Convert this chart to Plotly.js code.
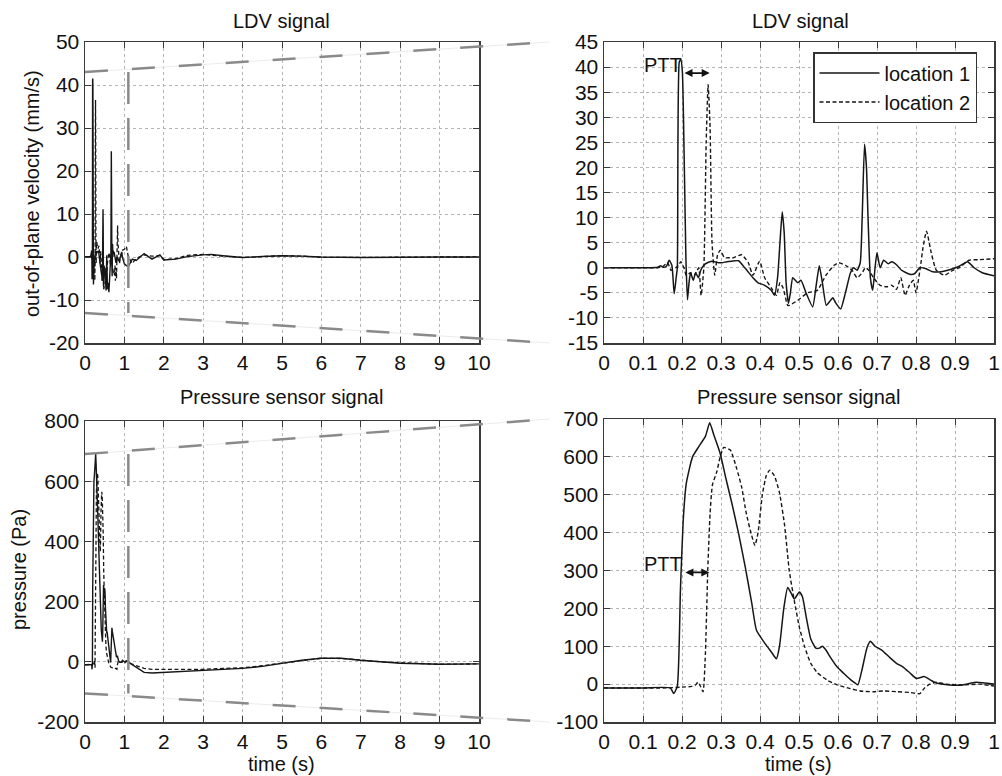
<!DOCTYPE html>
<html>
<head>
<meta charset="utf-8">
<script src="https://cdn.plot.ly/plotly-3.0.1.min.js"></script>
<style>html,body{margin:0;padding:0;background:#fff;}#chart{width:1002px;height:776px;}</style>
</head>
<body>
<div id="chart"></div>
<script>
// ---------- DATA ----------
const seriesNames = ['location 1', 'location 2'];
const subplotTitles = ['LDV signal', 'LDV signal', 'Pressure sensor signal', 'Pressure sensor signal'];
const xLabel = 'time (s)';
const yLabelLdv = 'out-of-plane velocity (mm/s)';
const yLabelP = 'pressure (Pa)';
const pttLabel = 'PTT';

// tick values / labels
const ticksFullT = [0,1,2,3,4,5,6,7,8,9,10];
const ticksZoomT = [0,0.1,0.2,0.3,0.4,0.5,0.6,0.7,0.8,0.9,1];
const ticksZoomTText = ['0','0.1','0.2','0.3','0.4','0.5','0.6','0.7','0.8','0.9','1'];
const ticksLdvFull = [-20,-10,0,10,20,30,40,50];
const ticksLdvFullText = ['-20','-10','0','10','20','30','40','50'];
const ticksLdvZoom = [-15,-10,-5,0,5,10,15,20,25,30,35,40,45];
const ticksLdvZoomText = ['-15','-10','-5','0','5','10','15','20','25','30','35','40','45'];
const ticksPFull = [-200,0,200,400,600,800];
const ticksPFullText = ['-200','0','200','400','600','800'];
const ticksPZoom = [-100,0,100,200,300,400,500,600,700];
const ticksPZoomText = ['-100','0','100','200','300','400','500','600','700'];

// LDV, first second (zoomed panel), location 1
const tLdv1 = [0,0.05,0.10,0.138,0.145,0.152,0.16,0.167,0.174,0.18,0.185,0.188,0.193,0.197,0.201,0.206,0.210,0.214,0.218,0.222,0.229,0.235,0.242,0.248,0.256,0.265,0.277,0.294,0.302,0.315,0.327,0.345,0.361,0.382,0.395,0.412,0.429,0.437,0.445,0.452,0.457,0.462,0.467,0.473,0.478,0.484,0.497,0.505,0.518,0.535,0.545,0.552,0.56,0.57,0.581,0.587,0.594,0.607,0.619,0.632,0.64,0.649,0.657,0.662,0.668,0.673,0.677,0.683,0.689,0.695,0.7,0.708,0.717,0.729,0.738,0.75,0.763,0.784,0.796,0.81,0.826,0.843,0.865,0.886,0.911,0.932,0.949,0.97,1.0];
const ldv1 = [0,0,0,0.1,0.4,0.1,0.3,1.5,0.5,-5.2,-2,0,41,41.5,39,20,2,-6.4,-3,-1,-2.5,-1,-2,-0.5,0.5,1,1.3,1,1,1.2,1.3,1.4,0,-2,-3,-3.5,-4.5,-5.5,-2,6,11.1,7,-3,-7.1,-5,-2,-3,-2.5,-5,-7.8,-3,0.4,-3,-7.5,-6.5,-6,-7,-8.2,-5,-1,0,-0.5,1,10,24.6,20,10,-2,-4.5,0,3,0,1.5,0.8,1.2,0.6,-0.5,-1.3,-1.2,0,-0.2,-0.8,-0.8,-0.4,0.3,1.2,0,-1,-1.6];
// LDV, first second, location 2
const tLdv2 = [0,0.10,0.138,0.15,0.163,0.172,0.184,0.191,0.197,0.205,0.211,0.222,0.231,0.239,0.243,0.249,0.256,0.262,0.267,0.272,0.277,0.284,0.291,0.298,0.309,0.323,0.332,0.353,0.37,0.382,0.399,0.412,0.429,0.442,0.451,0.459,0.471,0.475,0.497,0.522,0.547,0.569,0.59,0.602,0.619,0.636,0.649,0.662,0.67,0.679,0.691,0.708,0.725,0.738,0.75,0.761,0.772,0.783,0.793,0.8,0.811,0.818,0.827,0.839,0.852,0.873,0.894,0.911,0.936,0.962,1.0];
const ldv2 = [0,0,0,0.2,1,-0.5,0,0.5,1.2,0,-1.5,-1,-1.5,-0.5,0,-5.5,0,25,36.5,28,5,-1.5,2.5,3.5,2,2,2,2.6,1,-1.5,1.3,-2,-4,-5.5,-3,-4,-7.5,-7.5,-6.5,-5,-4.5,-1.5,0.5,1,0.5,-0.5,-2,-1,0,-0.5,-2,-3.5,-3.8,-3.5,-4.3,-2,-5.5,-3.5,-2.5,-5,0,4,7.3,3,-0.5,-1.5,-0.5,0,1.5,1.6,1.8];
// LDV, 1 s to 10 s (full-record panel only)
const tLdvTail = [1.05,1.1,1.2,1.3,1.5,1.7,1.9,2.0,2.3,2.6,3.0,3.2,3.5,4.0,4.5,5.0,5.5,6.0,7.0,8.0,9.0,10];
const ldv1Tail = [-2,-2.2,-0.5,-0.8,0.8,-0.5,0.5,-0.7,-0.5,0.1,0.5,0.6,0.3,-0.1,0.1,0.3,0.2,0,-0.1,0,0,0];
const ldv2Tail = [2.5,0,-1.5,-0.3,0.5,0.2,0.3,-0.6,-0.4,0.4,0.6,0.5,0.2,-0.1,0.1,0.3,0.2,-0.1,-0.1,0,0,0];

// Pressure, first second, location 1
const tP1 = [0,0.1,0.17,0.179,0.188,0.196,0.203,0.211,0.227,0.243,0.26,0.271,0.281,0.298,0.311,0.328,0.345,0.362,0.379,0.391,0.413,0.429,0.442,0.45,0.461,0.471,0.48,0.488,0.501,0.509,0.518,0.53,0.543,0.552,0.56,0.569,0.581,0.598,0.615,0.632,0.645,0.651,0.662,0.674,0.683,0.695,0.712,0.733,0.75,0.767,0.784,0.801,0.821,0.835,0.852,0.886,0.92,0.953,1.0];
const p1 = [-10,-10,-10,-25,-5,250,430,530,600,627,654,690,660,609,550,477,398,310,213,142,107,85,67,100,200,255,240,225,243,230,180,120,95,95,100,90,70,45,28,12,2,-2,40,95,113,100,90,70,55,45,30,15,20,12,3,-2,-2,5,0];
// Pressure, first second, location 2
const tP2 = [0,0.16,0.2,0.225,0.234,0.241,0.247,0.254,0.26,0.266,0.272,0.278,0.289,0.298,0.307,0.324,0.34,0.353,0.365,0.378,0.387,0.395,0.406,0.416,0.425,0.437,0.45,0.463,0.475,0.488,0.501,0.514,0.53,0.547,0.573,0.598,0.632,0.657,0.691,0.717,0.75,0.784,0.81,0.822,0.835,0.852,0.877,0.92,0.962,1.0];
const p2 = [-10,-10,-8,-6,-3,5,-5,-20,80,300,450,526,560,600,625,618,570,520,450,395,366,400,500,550,565,550,505,420,300,220,150,100,55,30,10,-2,-12,-18,-20,-18,-20,-22,-25,-10,0,5,0,-2,0,-5];
// Pressure, 1 s to 10 s
const tPTail = [1.05,1.2,1.5,1.7,2,2.5,3,3.5,4,4.5,5,5.5,6,6.5,7,7.5,8,9,10];
const p1Tail = [3,-10,-35,-37,-35,-33,-30,-26,-22,-15,-5,5,12,12,5,0,-5,-8,-7];
const p2Tail = [2,-8,-22,-25,-25,-25,-25,-22,-20,-13,-5,5,12,11,5,0,-3,-8,-7];

// zoom window shown on the full-record panels
const zoomT = [0, 1.1];
const zoomLdv = [-13, 43];
const zoomP = [-105, 690];
// PTT markers
const pttLdv = {t0: 0.2025, t1: 0.271, v: 38.8, labelT: 0.152, labelV: 40.4};
const pttP = {t0: 0.205, t1: 0.27, v: 295, labelT: 0.152, labelV: 318};

// ---------- LAYOUT ----------
const W = 1002, H = 776;
const FONT = 'Liberation Sans, Arial, Helvetica, sans-serif';
const px = v => v / W, py = v => 1 - v / H;
const dom = {
  xL: [px(85), px(479)], xR: [px(604), px(994)],
  yT: [py(343), py(42)], yB: [py(722), py(421)], yBR: [py(722), py(419)]
};
const ranges = {xL: [0, 10], xR: [0, 1], yTL: [-20, 50], yTR: [-15, 45], yBL: [-200, 800], yBR: [-100, 700]};

const lineCol = '#161616';
const solid = {color: lineCol, width: 1.5, shape: 'spline', smoothing: 0.5};
const dashed = {color: lineCol, width: 1.4, dash: '4px,2.5px', shape: 'spline', smoothing: 0.5};
const solidL = {color: lineCol, width: 1.4};
const dashedL = {color: lineCol, width: 1.3, dash: '4px,2.5px'};

const traces = [
  {x: tLdv1.concat(tLdvTail), y: ldv1.concat(ldv1Tail), xaxis: 'x', yaxis: 'y', mode: 'lines', line: solidL, name: seriesNames[0], showlegend: false},
  {x: tLdv2.concat(tLdvTail), y: ldv2.concat(ldv2Tail), xaxis: 'x', yaxis: 'y', mode: 'lines', line: dashedL, name: seriesNames[1], showlegend: false},
  {x: tLdv1, y: ldv1, xaxis: 'x2', yaxis: 'y2', mode: 'lines', line: solid, name: seriesNames[0], showlegend: true},
  {x: tLdv2, y: ldv2, xaxis: 'x2', yaxis: 'y2', mode: 'lines', line: dashed, name: seriesNames[1], showlegend: true},
  {x: tP1.concat(tPTail), y: p1.concat(p1Tail), xaxis: 'x3', yaxis: 'y3', mode: 'lines', line: solidL, name: seriesNames[0], showlegend: false},
  {x: tP2.concat(tPTail), y: p2.concat(p2Tail), xaxis: 'x3', yaxis: 'y3', mode: 'lines', line: dashedL, name: seriesNames[1], showlegend: false},
  {x: tP1, y: p1, xaxis: 'x4', yaxis: 'y4', mode: 'lines', line: solid, name: seriesNames[0], showlegend: false},
  {x: tP2, y: p2, xaxis: 'x4', yaxis: 'y4', mode: 'lines', line: dashed, name: seriesNames[1], showlegend: false}
];

const axBase = {
  showline: true, linecolor: '#3a3a3a', linewidth: 1.5, mirror: 'ticks',
  ticks: 'inside', ticklen: 6, tickcolor: '#3a3a3a', tickwidth: 1,
  showgrid: true, gridcolor: '#b5b5b5', griddash: 'dot', gridwidth: 1,
  zeroline: false, fixedrange: true, automargin: false,
  ticklabeloverflow: 'allow',
  tickfont: {family: FONT, size: 21, color: '#111'}
};
const ax = (o) => Object.assign({}, axBase, o);

// map data -> paper
const toPaper = (d, r, v) => d[0] + (v - r[0]) / (r[1] - r[0]) * (d[1] - d[0]);

function connectors(yDomL, yRangeL, yDomR, zoomY) {
  const x0 = toPaper(dom.xL, ranges.xL, zoomT[0]);
  const xEnd = px(550);
  const yTop = toPaper(yDomL, yRangeL, zoomY[1]);
  const yBot = toPaper(yDomL, yRangeL, zoomY[0]);
  const segs = [[x0, yTop, xEnd, yDomR[1]], [x0, yBot, xEnd, yDomR[0]]];
  const out = [];
  segs.forEach(s => {
    out.push({type: 'line', xref: 'paper', yref: 'paper', x0: s[0], y0: s[1], x1: s[2], y1: s[3], layer: 'above', line: {color: '#ececec', width: 1}});
    out.push({type: 'line', xref: 'paper', yref: 'paper', x0: s[0], y0: s[1], x1: s[2], y1: s[3], layer: 'above', line: {color: '#8a8a8a', width: 2.5, dash: '23px,24px'}});
  });
  return out;
}
const shapes = [].concat(
  connectors(dom.yT, ranges.yTL, dom.yT, zoomLdv),
  connectors(dom.yB, ranges.yBL, dom.yBR, zoomP),
  [
    {type: 'line', xref: 'x', yref: 'y', x0: zoomT[1], x1: zoomT[1], y0: zoomLdv[1], y1: zoomLdv[0], layer: 'above', line: {color: '#8a8a8a', width: 2.5, dash: '32px,14px'}},
    {type: 'line', xref: 'x3', yref: 'y3', x0: zoomT[1], x1: zoomT[1], y0: zoomP[1], y1: zoomP[0], layer: 'above', line: {color: '#8a8a8a', width: 2.5, dash: '32px,14px'}}
  ]
);

const F20 = {family: FONT, size: 20, color: '#111'};
const txt = (text, x, y, extra) => Object.assign({text: text, xref: 'paper', yref: 'paper', x: x, y: y, xanchor: 'center', yanchor: 'middle', showarrow: false, font: F20}, extra || {});

const annotations = [
  txt(subplotTitles[0], px(281), py(21)),
  txt(subplotTitles[1], px(800), py(21)),
  txt(subplotTitles[2], px(281), py(397)),
  txt(subplotTitles[3], px(798), py(397)),
  txt(xLabel, px(281), py(764)),
  txt(xLabel, px(798), py(764)),
  txt(yLabelLdv, px(32), py(194), {textangle: -90}),
  txt(yLabelP, px(19), py(570), {textangle: -90}),
  {text: pttLabel, xref: 'x2', yref: 'y2', x: pttLdv.labelT, y: pttLdv.labelV, showarrow: false, xanchor: 'center', yanchor: 'middle', font: F20},
  {text: '', xref: 'x2', yref: 'y2', axref: 'x2', ayref: 'y2', x: pttLdv.t1, y: pttLdv.v, ax: pttLdv.t0, ay: pttLdv.v, showarrow: true, arrowside: 'end+start', arrowhead: 2, startarrowhead: 2, arrowsize: 1, startarrowsize: 1, arrowwidth: 1.6, arrowcolor: '#111', standoff: 0, startstandoff: 0},
  {text: pttLabel, xref: 'x4', yref: 'y4', x: pttP.labelT, y: pttP.labelV, showarrow: false, xanchor: 'center', yanchor: 'middle', font: F20},
  {text: '', xref: 'x4', yref: 'y4', axref: 'x4', ayref: 'y4', x: pttP.t1, y: pttP.v, ax: pttP.t0, ay: pttP.v, showarrow: true, arrowside: 'end+start', arrowhead: 2, startarrowhead: 2, arrowsize: 1, startarrowsize: 1, arrowwidth: 1.6, arrowcolor: '#111', standoff: 0, startstandoff: 0}
];

const layout = {
  width: W, height: H,
  margin: {l: 0, r: 0, t: 0, b: 0},
  paper_bgcolor: '#fff', plot_bgcolor: '#fff',
  font: F20,
  xaxis:  ax({domain: dom.xL, range: ranges.xL, anchor: 'y',  tickmode: 'array', tickvals: ticksFullT}),
  yaxis:  ax({domain: dom.yT, range: ranges.yTL, anchor: 'x', tickmode: 'array', tickvals: ticksLdvFull, ticktext: ticksLdvFullText}),
  xaxis2: ax({domain: dom.xR, range: ranges.xR, anchor: 'y2', tickmode: 'array', tickvals: ticksZoomT, ticktext: ticksZoomTText}),
  yaxis2: ax({domain: dom.yT, range: ranges.yTR, anchor: 'x2', tickmode: 'array', tickvals: ticksLdvZoom, ticktext: ticksLdvZoomText}),
  xaxis3: ax({domain: dom.xL, range: ranges.xL, anchor: 'y3', tickmode: 'array', tickvals: ticksFullT}),
  yaxis3: ax({domain: dom.yB, range: ranges.yBL, anchor: 'x3', tickmode: 'array', tickvals: ticksPFull, ticktext: ticksPFullText}),
  xaxis4: ax({domain: dom.xR, range: ranges.xR, anchor: 'y4', tickmode: 'array', tickvals: ticksZoomT, ticktext: ticksZoomTText}),
  yaxis4: ax({domain: dom.yBR, range: ranges.yBR, anchor: 'x4', tickmode: 'array', tickvals: ticksPZoom, ticktext: ticksPZoomText}),
  showlegend: true,
  legend: {x: px(813), y: py(52), xanchor: 'left', yanchor: 'top', bgcolor: '#fff', bordercolor: '#333', borderwidth: 1.5,
           font: F20, itemwidth: 60, tracegroupgap: 0},
  shapes: shapes,
  annotations: annotations
};

Plotly.newPlot('chart', traces, layout, {staticPlot: true, displayModeBar: false});
</script>
</body>
</html>
